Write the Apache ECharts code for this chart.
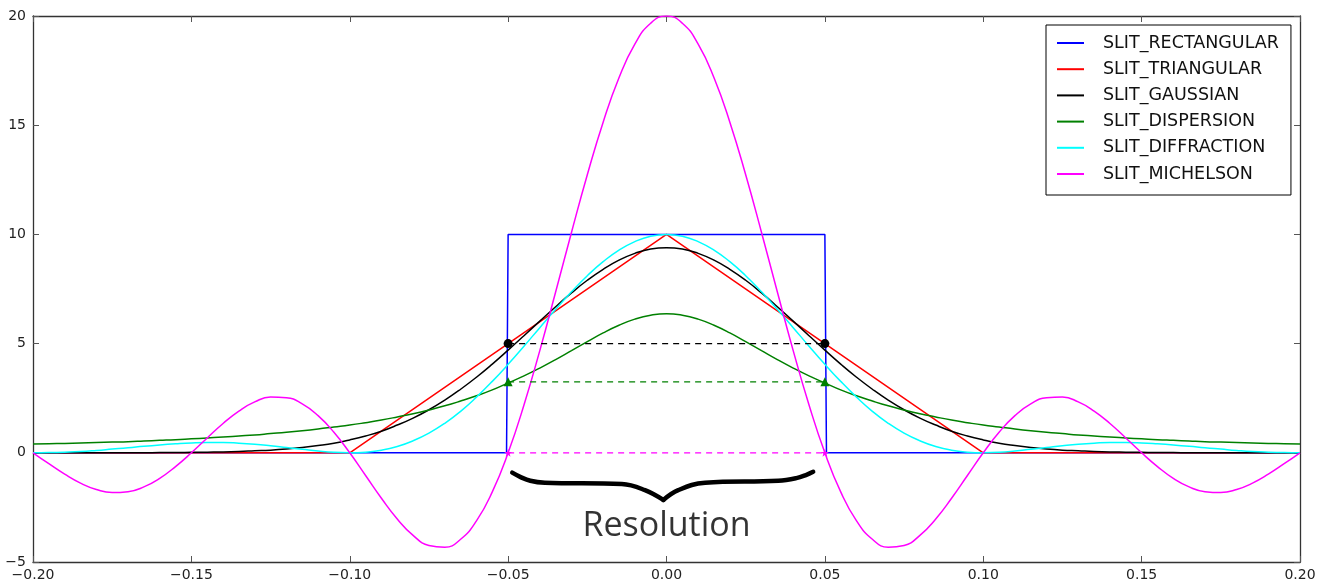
<!DOCTYPE html>
<html>
<head>
<meta charset="utf-8">
<script src="https://cdn.jsdelivr.net/npm/echarts@6/dist/echarts.min.js"></script>
<style>
html, body { margin: 0; padding: 0; background: #fff; }
#main { width: 1325px; height: 584px; }
</style>
</head>
<body>
<div id="main"></div>
<script>
// slit function profiles
const seriesNames = ['SLIT_RECTANGULAR', 'SLIT_TRIANGULAR', 'SLIT_GAUSSIAN', 'SLIT_DISPERSION', 'SLIT_DIFFRACTION', 'SLIT_MICHELSON'];

const rectX = [-0.2, -0.0505, -0.05, 0.05, 0.0505, 0.2];
const rectY = [0, 0, 10, 10, 0, 0];

const triX = [-0.2, -0.1, 0, 0.1, 0.2];
const triY = [0, 0, 10, 0, 0];

const xs = [-0.200, -0.195, -0.190, -0.185, -0.180, -0.175, -0.170, -0.165, -0.160, -0.155,
            -0.150, -0.145, -0.140, -0.135, -0.130, -0.125, -0.120, -0.115, -0.110, -0.105,
            -0.100, -0.095, -0.090, -0.085, -0.080, -0.075, -0.070, -0.065, -0.060, -0.055,
            -0.050, -0.045, -0.040, -0.035, -0.030, -0.025, -0.020, -0.015, -0.010, -0.005,
            0,
            0.005, 0.010, 0.015, 0.020, 0.025, 0.030, 0.035, 0.040, 0.045, 0.050,
            0.055, 0.060, 0.065, 0.070, 0.075, 0.080, 0.085, 0.090, 0.095, 0.100,
            0.105, 0.110, 0.115, 0.120, 0.125, 0.130, 0.135, 0.140, 0.145, 0.150,
            0.155, 0.160, 0.165, 0.170, 0.175, 0.180, 0.185, 0.190, 0.195, 0.200];

const gaussY = [0, 0, 0, 0, 0, 0, 0, 0, 0.01, 0.01,
                0.02, 0.03, 0.04, 0.06, 0.09, 0.12, 0.17, 0.24, 0.33, 0.44,
                0.59, 0.77, 0.99, 1.27, 1.59, 1.97, 2.41, 2.91, 3.46, 4.06,
                4.70, 5.36, 6.03, 6.69, 7.32, 7.90, 8.40, 8.82, 9.13, 9.33,
                9.39,
                9.33, 9.13, 8.82, 8.40, 7.90, 7.32, 6.69, 6.03, 5.36, 4.70,
                4.06, 3.46, 2.91, 2.41, 1.97, 1.59, 1.27, 0.99, 0.77, 0.59,
                0.44, 0.33, 0.24, 0.17, 0.12, 0.09, 0.06, 0.04, 0.03, 0.02,
                0.01, 0.01, 0, 0, 0, 0, 0, 0, 0, 0];

const dispY = [0.40, 0.415, 0.43, 0.45, 0.47, 0.49, 0.51, 0.54, 0.57, 0.60,
               0.64, 0.68, 0.72, 0.77, 0.82, 0.88, 0.94, 1.01, 1.09, 1.18,
               1.27, 1.38, 1.50, 1.64, 1.79, 1.96, 2.15, 2.37, 2.61, 2.88,
               3.20, 3.52, 3.88, 4.27, 4.68, 5.09, 5.49, 5.84, 6.12, 6.30,
               6.37,
               6.30, 6.12, 5.84, 5.49, 5.09, 4.68, 4.27, 3.88, 3.52, 3.20,
               2.88, 2.61, 2.37, 2.15, 1.96, 1.79, 1.64, 1.50, 1.38, 1.27,
               1.18, 1.09, 1.01, 0.94, 0.88, 0.82, 0.77, 0.72, 0.68, 0.64,
               0.60, 0.57, 0.54, 0.51, 0.49, 0.47, 0.45, 0.43, 0.415, 0.40];

const diffY = [0, 0.01, 0.03, 0.06, 0.11, 0.17, 0.23, 0.30, 0.36, 0.41,
               0.45, 0.47, 0.47, 0.44, 0.39, 0.32, 0.24, 0.16, 0.08, 0.02,
               0, 0.03, 0.12, 0.29, 0.55, 0.90, 1.35, 1.90, 2.55, 3.27,
               4.05, 4.88, 5.73, 6.57, 7.37, 8.11, 8.75, 9.28, 9.67, 9.92,
               10,
               9.92, 9.67, 9.28, 8.75, 8.11, 7.37, 6.57, 5.73, 4.88, 4.05,
               3.27, 2.55, 1.90, 1.35, 0.90, 0.55, 0.29, 0.12, 0.03, 0,
               0.02, 0.08, 0.16, 0.24, 0.32, 0.39, 0.44, 0.47, 0.47, 0.45,
               0.41, 0.36, 0.30, 0.23, 0.17, 0.11, 0.06, 0.03, 0.01, 0];

const michY = [0, -0.50, -0.98, -1.39, -1.68, -1.82, -1.78, -1.56, -1.17, -0.63,
               0, 0.68, 1.34, 1.91, 2.33, 2.55, 2.52, 2.24, 1.70, 0.94,
               0, -1.04, -2.08, -3.03, -3.78, -4.24, -4.32, -3.96, -3.12, -1.79,
               0, 2.19, 4.68, 7.36, 10.09, 12.73, 15.14, 17.17, 18.71, 19.67,
               20,
               19.67, 18.71, 17.17, 15.14, 12.73, 10.09, 7.36, 4.68, 2.19, 0,
               -1.79, -3.12, -3.96, -4.32, -4.24, -3.78, -3.03, -2.08, -1.04, 0,
               0.94, 1.70, 2.24, 2.52, 2.55, 2.33, 1.91, 1.34, 0.68, 0,
               -0.63, -1.17, -1.56, -1.78, -1.82, -1.68, -1.39, -0.98, -0.50, 0];

// half maximum / resolution markers
const hmX = [-0.05, 0.05];
const hmRect = [5, 5];
const hmDisp = [3.25, 3.25];
const hmMich = [0, 0];

// curly brace under the resolution
const braceLX = [-0.0487, -0.0462, -0.0430, -0.0384, -0.0141, -0.0068, -0.0010];
const braceLY = [-0.91, -1.10, -1.28, -1.37, -1.43, -1.71, -2.16];
const braceRX = [-0.0010, 0.0037, 0.0122, 0.0353, 0.0410, 0.0440, 0.0463];
const braceRY = [-2.16, -1.71, -1.37, -1.28, -1.16, -1.02, -0.87];
const annotText = 'Resolution';
const annotPos = [0, -3.35];

const colors = ['#0000ff', '#ff0000', '#000000', '#008000', '#00ffff', '#ff00ff'];
const starPath = 'path://M50,0 L61,35 L98,35 L68,57 L79,91 L50,70 L21,91 L32,57 L2,35 L39,35 Z';

function pairs(px, py) {
    return px.map(function (x, i) { return [x, py[i]]; });
}

function minus(v) {
    return String(v).replace('-', '\u2212');
}

function curve(idx, px, py, smooth) {
    return {
        name: seriesNames[idx],
        type: 'line',
        data: pairs(px, py),
        smooth: smooth,
        symbol: 'none',
        lineStyle: { color: colors[idx], width: 1.5 },
        itemStyle: { color: colors[idx] },
        silent: true
    };
}

function halfLine(py, color, symbol, size) {
    return {
        type: 'line',
        data: pairs(hmX, py),
        symbol: symbol,
        symbolSize: size,
        showSymbol: true,
        lineStyle: { color: color, width: 1.3, type: [6, 5] },
        itemStyle: { color: color },
        silent: true
    };
}

function brace(px, py) {
    return {
        type: 'line',
        data: pairs(px, py),
        smooth: 0.4,
        symbol: 'none',
        lineStyle: { color: '#000', width: 4.5, cap: 'round', join: 'round' },
        silent: true
    };
}

const axisLine = { onZero: false, lineStyle: { color: '#333', width: 1.3 } };
const axisTick = { inside: true, length: 6, lineStyle: { color: '#555' } };
const tickFont = { color: '#222', fontSize: 14, fontFamily: 'DejaVu Sans' };

let myChart = echarts.init(document.getElementById('main'));
myChart.setOption({
    animation: false,
    backgroundColor: '#fff',
    grid: { left: 33, right: 25, top: 16, bottom: 22 },
    legend: {
        data: seriesNames,
        orient: 'vertical',
        left: 1046,
        top: 25,
        padding: [9, 12, 12, 11],
        itemGap: 8.2,
        itemWidth: 27,
        itemHeight: 2,
        icon: 'rect',
        borderColor: '#000',
        borderWidth: 1,
        borderRadius: 0,
        backgroundColor: '#fff',
        textStyle: {
            fontSize: 17.5,
            fontFamily: 'DejaVu Sans',
            color: '#111',
            lineHeight: 18,
            padding: [0, 0, 0, 14]
        }
    },
    xAxis: [
        {
            type: 'value', min: -0.2, max: 0.2, interval: 0.05, position: 'bottom',
            axisLine: axisLine, axisTick: axisTick, splitLine: { show: false },
            axisLabel: Object.assign({ margin: 6, formatter: function (v) { return minus(v.toFixed(2)); } }, tickFont)
        },
        {
            type: 'value', min: -0.2, max: 0.2, interval: 0.05, position: 'top',
            axisLine: axisLine, axisTick: axisTick, splitLine: { show: false },
            axisLabel: { show: false }
        }
    ],
    yAxis: [
        {
            type: 'value', min: -5, max: 20, interval: 5, position: 'left',
            axisLine: axisLine, axisTick: axisTick, splitLine: { show: false },
            axisLabel: Object.assign({ margin: 7, formatter: function (v) { return minus(v); } }, tickFont)
        },
        {
            type: 'value', min: -5, max: 20, interval: 5, position: 'right',
            axisLine: axisLine, axisTick: axisTick, splitLine: { show: false },
            axisLabel: { show: false }
        }
    ],
    series: [
        curve(0, rectX, rectY, false),
        curve(1, triX, triY, false),
        curve(2, xs, gaussY, 0.5),
        curve(3, xs, dispY, 0.5),
        curve(4, xs, diffY, 0.5),
        curve(5, xs, michY, 0.5),
        halfLine(hmRect, '#000', 'circle', 9),
        halfLine(hmDisp, '#008000', 'triangle', 9),
        halfLine(hmMich, '#ff00ff', starPath, 8),
        brace(braceLX, braceLY),
        brace(braceRX, braceRY),
        {
            type: 'scatter',
            data: [annotPos],
            symbolSize: 1,
            itemStyle: { color: 'rgba(0,0,0,0)' },
            label: {
                show: true,
                position: 'inside',
                formatter: annotText,
                fontSize: 34,
                fontFamily: 'Open Sans',
                color: '#000'
            },
            silent: true
        }
    ]
});
</script>
</body>
</html>
